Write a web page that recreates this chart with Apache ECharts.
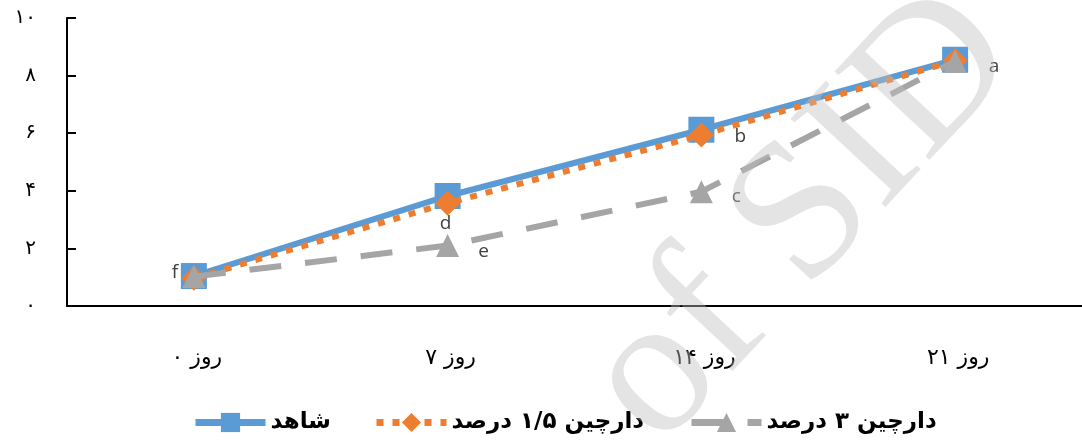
<!DOCTYPE html>
<html>
<head>
<meta charset="utf-8">
<script src="https://cdn.jsdelivr.net/npm/echarts@6/dist/echarts.min.js"></script>
<style>
html,body{margin:0;padding:0;background:#fff;}
#chart{width:1082px;height:440px;}
</style>
</head>
<body>
<div id="chart"></div>
<script>
const categories = ['روز ۰', 'روز ۷', 'روز ۱۴', 'روز ۲۱'];
const controlValues = [1.04, 3.82, 6.12, 8.55];
const cin15Values = [0.96, 3.57, 5.94, 8.52];
const cin3Values = [1.02, 2.1, 3.97, 8.5];
const yTickLabels = ['۰', '۲', '۴', '۶', '۸', '۱۰'];
const seriesNames = ['شاهد', 'دارچین ۱/۵ درصد', 'دارچین ۳ درصد'];
const controlLetters = ['f', 'd', 'b', 'a'];
const cin3Letters = ['', 'e', 'c', ''];
const watermarkText = 'Archive of SID';

const controlOffsets = [[-19, -3], [-2, 28], [39, 7], [39, 7]];
const cin3Offsets = [[0, 0], [36, 6], [35, 5], [0, 0]];

function withLabels(values, letters, offsets) {
  return values.map((v, i) => {
    if (!letters[i]) return v;
    return {
      value: v,
      label: {
        show: true, formatter: letters[i], position: 'inside',
        offset: offsets[i], color: '#404040', fontSize: 19,
        fontFamily: '"Open Sans", sans-serif'
      }
    };
  });
}

const chart = echarts.init(document.getElementById('chart'), null, {renderer: 'canvas'});
const legendBase = {
  orient: 'horizontal', top: 406, itemWidth: 70, itemHeight: 24, itemGap: 10,
  textStyle: {fontFamily: '"DejaVu Sans", sans-serif', fontWeight: 'bold', fontSize: 23, color: '#000'},
  lineStyle: {width: 7}
};
chart.setOption({
  animation: false,
  backgroundColor: '#fff',
  grid: {left: 67, right: -9, top: 18, bottom: 134, containLabel: false},
  legend: [
    Object.assign({}, legendBase, {left: 187, data: [seriesNames[0]]}),
    Object.assign({}, legendBase, {left: 368, data: [seriesNames[1]]}),
    Object.assign({}, legendBase, {left: 683, data: [seriesNames[2]]})
  ],
  xAxis: {
    type: 'category', data: categories, boundaryGap: true,
    axisLine: {lineStyle: {color: '#000', width: 2}},
    axisTick: {show: false},
    axisLabel: {margin: 41, fontSize: 22, color: '#000', padding: [0, 0, 0, 6],
      fontFamily: '"DejaVu Sans", sans-serif'},
    splitLine: {show: false}
  },
  yAxis: {
    type: 'value', min: 0, max: 10, interval: 2,
    axisLine: {show: true, lineStyle: {color: '#000', width: 2}},
    axisTick: {show: true, inside: true, length: 9, lineStyle: {color: '#000', width: 2}},
    axisLabel: {margin: 31, fontSize: 20, color: '#000', fontFamily: '"DejaVu Sans", sans-serif',
      formatter: v => yTickLabels[Math.round(v / 2)]},
    splitLine: {show: false}
  },
  series: [
    {
      name: seriesNames[0], type: 'line', data: withLabels(controlValues, controlLetters, controlOffsets),
      symbol: 'rect', symbolSize: 26, z: 2,
      lineStyle: {color: '#5B9BD5', width: 6},
      itemStyle: {color: '#5B9BD5'}
    },
    {
      name: seriesNames[1], type: 'line', data: cin15Values,
      symbol: 'diamond', symbolSize: 25, z: 3,
      lineStyle: {color: '#ED7D31', width: 6, type: [7, 9], cap: 'butt'},
      itemStyle: {color: '#ED7D31'}
    },
    {
      name: seriesNames[2], type: 'line', data: withLabels(cin3Values, cin3Letters, cin3Offsets),
      symbol: 'triangle', symbolSize: 23, z: 4,
      lineStyle: {color: '#A5A5A5', width: 6, type: [32, 24], cap: 'butt'},
      itemStyle: {color: '#A5A5A5'}
    }
  ],
  graphic: [{
    type: 'text', x: 985, y: 24, rotation: 47 * Math.PI / 180, z: 100, silent: true,
    style: {
      text: watermarkText, font: '198px "Liberation Serif", serif',
      fill: 'rgba(190,190,190,0.42)', textAlign: 'right', textVerticalAlign: 'middle'
    }
  }]
});
</script>
</body>
</html>
